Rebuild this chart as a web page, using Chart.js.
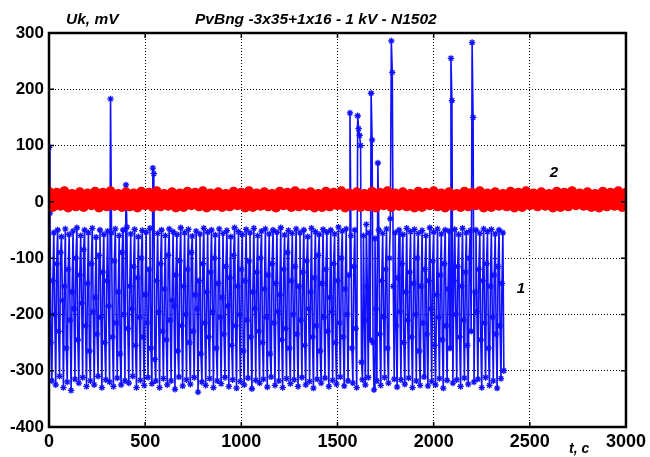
<!DOCTYPE html>
<html lang="en">
<head>
    <meta charset="UTF-8">
    <title>PvBng -3x35+1x16 - 1 kV - N1502</title>
    <script src="https://cdn.jsdelivr.net/npm/chart.js"></script>
    <style>
        html, body {
            margin: 0;
            padding: 0;
            background: #ffffff;
        }
        #wrap {
            width: 650px;
            height: 457px;
        }
    </style>
</head>
<body>
    <div id="wrap"><canvas id="ukChart" width="650" height="457"></canvas></div>

    <script>
        // --- data ---
        // curve 1 (blue), one sample every blueDt seconds, 0 .. 2365 s
        const blueDt = 5;
        const blueValues = [
            97, -20, -250, -318, -140, -55, -200, -325, -110, -50, -230, -310, -90, -62, -175, -330, -150, -48, -260, -320,
            -120, -58, -210, -335, -160, -52, -190, -315, -100, -46, -245, -322, -130, -60, -180, -312, -85, -50, -220, -328,
            -145, -55, -265, -318, -110, -47, -195, -325, -170, -63, -235, -310, -95, -50, -205, -330, -125, -58, -250, -316,
            -140, -52, -185, -320, 183, -55, -240, -328, -105, -48, -215, -313, -160, -60, -270, -325, -90, -50, -200, -318,
            30, -45, -225, -322, -150, -57, -190, -310, -115, -49, -255, -330, -135, -62, -205, -317, -100, -51, -240, -326,
            -165, -54, -215, -312, -120, -47, -260, -323, 60, 50, -280, -318, -140, -56, -195, -330, -110, -50, -230, -314,
            -155, -60, -245, -325, -95, -48, -210, -318, -175, -53, -185, -333, -130, -58, -265, -311, -105, -46, -220, -327,
            -150, -55, -200, -316, -120, -49, -250, -324, -90, -61, -230, -312, -165, -52, -190, -338, -140, -57, -270, -320,
            -110, -47, -215, -326, -160, -54, -240, -314, -125, -50, -195, -330, -100, -59, -260, -318, -145, -48, -205, -323,
            -170, -56, -235, -312, -115, -51, -185, -328, -135, -62, -255, -316, -95, -46, -220, -331, -150, -53, -200, -319,
            -120, -58, -265, -325, -140, -49, -210, -313, -105, -55, -240, -332, -160, -47, -190, -317, -125, -60, -230, -322,
            -100, -52, -250, -315, -155, -48, -205, -329, -130, -57, -270, -311, -110, -50, -215, -326, -145, -54, -195, -318,
            -165, -46, -245, -330, -120, -59, -225, -314, -90, -51, -260, -323, -140, -56, -200, -316, -115, -48, -235, -328,
            -150, -55, -210, -312, -125, -50, -255, -325, -105, -62, -190, -319, -160, -47, -240, -331, -135, -53, -220, -315,
            -95, -58, -265, -322, -145, -49, -205, -313, -120, -54, -230, -328, -170, -50, -195, -317, -110, -57, -250, -324,
            -140, -45, -215, -311, -100, -52, -240, -327, -155, -48, -200, -318, -130, 158, -60, -260, -322, -115, -50, -225,
            -330, 153, 130, 118, 100, -285, -316, -60, -210, -325, -40, -150, -312, -55, -245, 193, 110, -250, -334, -65,
            -190, -318, 69, -50, -235, -326, -140, -56, -205, -312, -120, -48, -260, -322, -100, -30, 286, 230, -150, -315,
            -55, -220, -329, -135, -50, -195, -316, -110, -58, -250, -324, -160, -47, -210, -313, -125, -53, -240, -330, -145,
            -49, -200, -318, -100, -56, -265, -326, -150, -51, -215, -311, -120, -60, -235, -327, -140, -46, -190, -319, -105,
            -54, -255, -325, -165, -48, -205, -314, -130, -57, -245, -331, -110, -50, -220, -317, -155, -52, -260, 255, 180,
            -322, -140, -49, -200, -316, -115, -58, -240, -328, -150, -47, -210, -313, -125, -55, -255, -324, -100, -51, -230,
            283, 150, -320, -160, -50, -195, -315, -120, -56, -245, -330, -140, -48, -215, -312, -110, -53, -260, -326, -150,
            -49, -205, -318, -130, -57, -235, -331, -115, -50, -220, -314, -145, -55, -300
        ];

        // curve 2 (red), one sample every redDt seconds, 0 .. 3000 s
        const redDt = 20;
        const redValues = [
            18, -9, 16, -7, 19, -10, 14, -8, 17, -9,
            15, -6, 18, -10, 16, -8, 19, -7, 14, -9,
            17, -8, 15, -10, 18, -6, 16, -9, 19, -8,
            14, -7, 17, -10, 15, -9, 18, -6, 16, -8,
            19, -10, 15, -7, 17, -9, 14, -8, 18, -6,
            16, -10, 19, -9, 15, -7, 17, -8, 14, -10,
            18, -6, 16, -9, 19, -8, 15, -7, 17, -10,
            14, -9, 18, -8, 16, -6, 19, -10, 15, -7,
            17, -9, 14, -8, 18, -10, 16, -6, 19, -9,
            15, -7, 17, -8, 14, -10, 18, -9, 16, -6,
            19, -8, 15, -10, 17, -7, 14, -9, 18, -8,
            16, -6, 19, -10, 15, -9, 17, -7, 14, -8,
            18, -10, 16, -9, 19, -6, 15, -8, 17, -7,
            14, -10, 18, -9, 16, -8, 19, -6, 15, -7,
            17, -9, 14, -10, 18, -8, 16, -7, 19, -9,
            16
        ];

        const xTicks = [0, 500, 1000, 1500, 2000, 2500, 3000];
        const yTicks = [-400, -300, -200, -100, 0, 100, 200, 300];

        const titleText = 'PvBng -3x35+1x16 - 1 kV - N1502';
        const yAxisText = 'Uk, mV';
        const xAxisText = 't, c';

        const FONT = 'Arial, "Liberation Sans", sans-serif';

        // --- decorations: box, inner ticks, labels ---
        const framePlugin = {
            id: 'frame',
            afterDraw(chart) {
                const ctx = chart.ctx;
                const a = chart.chartArea;
                const xs = chart.scales.x;
                const ys = chart.scales.y;
                ctx.save();
                ctx.strokeStyle = '#000';
                ctx.lineWidth = 1.5;
                xTicks.forEach(v => {
                    const px = xs.getPixelForValue(v);
                    ctx.beginPath();
                    ctx.moveTo(px, a.bottom); ctx.lineTo(px, a.bottom - 5);
                    ctx.moveTo(px, a.top); ctx.lineTo(px, a.top + 5);
                    ctx.stroke();
                });
                yTicks.forEach(v => {
                    const py = ys.getPixelForValue(v);
                    ctx.beginPath();
                    ctx.moveTo(a.left, py); ctx.lineTo(a.left + 5, py);
                    ctx.moveTo(a.right, py); ctx.lineTo(a.right - 5, py);
                    ctx.stroke();
                });
                ctx.lineWidth = 2.5;
                ctx.strokeRect(a.left, a.top, a.right - a.left, a.bottom - a.top);

                ctx.fillStyle = '#000';
                ctx.textBaseline = 'alphabetic';
                ctx.textAlign = 'left';
                ctx.font = 'italic bold 15.5px ' + FONT;
                ctx.fillText(titleText, 195, 24);
                ctx.fillText(yAxisText, 66, 24);
                ctx.font = 'italic bold 14px ' + FONT;
                ctx.fillText(xAxisText, 569, 453);
                ctx.textAlign = 'center';
                ctx.font = 'italic bold 15px ' + FONT;
                ctx.fillText('2', 554, 177);
                ctx.fillText('1', 521, 293);
                ctx.restore();
            }
        };

        const data = {
            datasets: [
                {
                    label: '2',
                    data: redValues.map((v, i) => ({ x: i * redDt, y: v })),
                    borderColor: '#ff0000',
                    backgroundColor: '#ff0000',
                    borderWidth: 9,
                    borderJoinStyle: 'round',
                    pointRadius: 5,
                    pointBorderWidth: 0,
                    pointStyle: 'circle'
                },
                {
                    label: '1',
                    data: blueValues.map((v, i) => ({ x: i * blueDt, y: v })),
                    borderColor: '#1010ff',
                    backgroundColor: '#1010ff',
                    borderWidth: 1.6,
                    pointRadius: 3.2,
                    pointBorderWidth: 1.3,
                    pointStyle: 'star'
                }
            ]
        };

        const config = {
            type: 'line',
            data: data,
            options: {
                responsive: false,
                animation: false,
                events: [],
                layout: {
                    padding: { left: 0, right: 21, top: 33, bottom: 0 }
                },
                elements: {
                    line: { tension: 0, fill: false }
                },
                plugins: {
                    legend: { display: false },
                    tooltip: { enabled: false },
                    title: { display: false }
                },
                scales: {
                    x: {
                        type: 'linear',
                        min: 0,
                        max: 3000,
                        afterBuildTicks: s => { s.ticks = xTicks.map(v => ({ value: v })); },
                        afterFit: s => { s.height = 30; },
                        ticks: {
                            autoSkip: false,
                            maxRotation: 0,
                            padding: 4,
                            color: '#000',
                            callback: v => String(v),
                            font: { family: FONT, size: 18, weight: 'bold' }
                        },
                        grid: {
                            color: '#000',
                            lineWidth: 1,
                            drawTicks: false
                        },
                        border: { display: false, dash: [1, 2] }
                    },
                    y: {
                        type: 'linear',
                        min: -400,
                        max: 300,
                        afterBuildTicks: s => { s.ticks = yTicks.map(v => ({ value: v })); },
                        afterFit: s => { s.width = 49; },
                        ticks: {
                            autoSkip: false,
                            padding: 5,
                            color: '#000',
                            callback: v => String(v),
                            font: { family: FONT, size: 17, weight: 'bold' }
                        },
                        grid: {
                            color: '#000',
                            lineWidth: 1,
                            drawTicks: false
                        },
                        border: { display: false, dash: [1, 2] }
                    }
                }
            },
            plugins: [framePlugin]
        };

        const ukChart = new Chart(document.getElementById('ukChart'), config);
    </script>
</body>
</html>
